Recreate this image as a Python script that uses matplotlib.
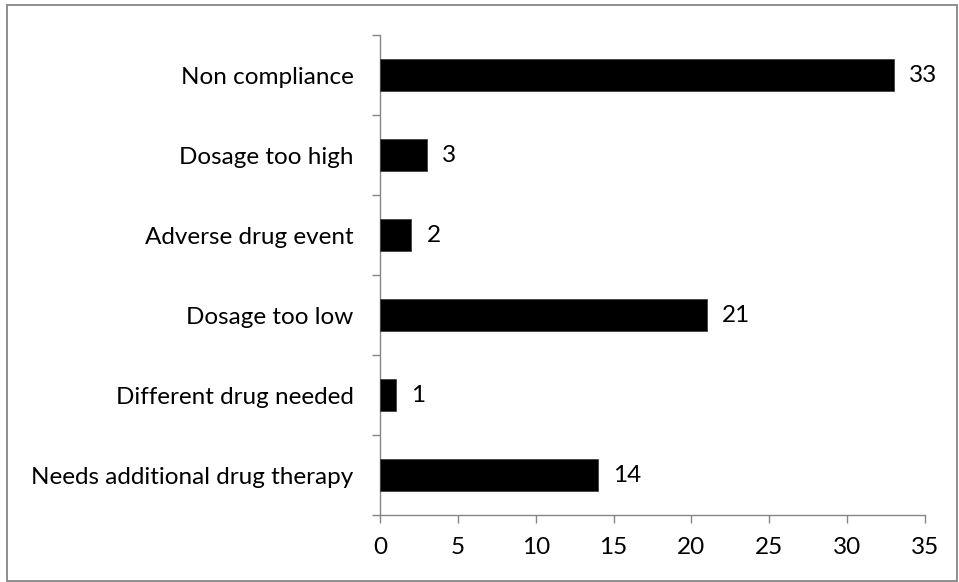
import matplotlib
matplotlib.use("Agg")
import matplotlib.pyplot as plt
from matplotlib.patches import Rectangle

categories = ["Needs additional drug therapy", "Different drug needed", "Dosage too low",
              "Adverse drug event", "Dosage too high", "Non compliance"]
values = [14, 1, 21, 2, 3, 33]
xticks = [0, 5, 10, 15, 20, 25, 30, 35]

W, H = 959, 582
fig = plt.figure(figsize=(W / 100, H / 100), dpi=100)
plt.rcParams['font.family'] = ['Lato', 'DejaVu Sans']
FS = 17.5

ax = fig.add_axes([380 / W, 1 - 515 / H, (925 - 380) / W, (515 - 35) / H])
grey = "#868686"
ypos = list(range(len(categories)))
ax.barh(ypos, values, height=0.4, color="black", edgecolor="#404040", linewidth=0.6, zorder=3)
for y, v in zip(ypos, values):
    ax.annotate(str(v), (v, y), xytext=(11, 0), textcoords="offset points",
                va="center", ha="left", fontsize=FS)

ax.set_xlim(0, 35)
ax.set_ylim(-0.5, len(categories) - 0.5)
ax.set_xticks(xticks)
ax.set_xticklabels([str(t) for t in xticks], fontsize=FS)
ax.set_yticks([i - 0.5 for i in range(len(categories) + 1)], minor=False)
ax.set_yticklabels([])
ax.set_yticks(ypos, minor=True)
ax.set_yticklabels(categories, minor=True, fontsize=FS)
ax.tick_params(axis="y", which="major", length=6, color=grey, width=1, direction="out")
ax.tick_params(axis="y", which="minor", length=0, pad=19)
ax.tick_params(axis="x", which="major", length=6, color=grey, width=1, direction="out", pad=10)
for s in ["top", "right"]:
    ax.spines[s].set_visible(False)
for s in ["left", "bottom"]:
    ax.spines[s].set_color(grey)
    ax.spines[s].set_linewidth(1)

fig.patches.append(Rectangle((7 / W, 1 / H), (957 - 7) / W, (H - 5 - 1) / H, transform=fig.transFigure,
                             fill=False, edgecolor=grey, linewidth=1.3))
fig.savefig("out.png", dpi=100)
